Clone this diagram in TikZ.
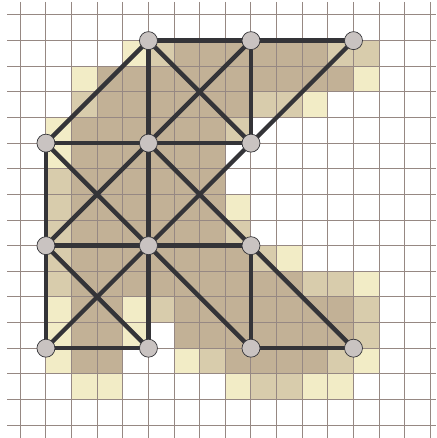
\documentclass[tikz,border=0pt]{standalone}
\definecolor{cL}{HTML}{F2ECC6}
\definecolor{cM}{HTML}{D8CCAC}
\definecolor{cD}{HTML}{C2B196}
\definecolor{gridc}{HTML}{968883}
\definecolor{edgec}{HTML}{343438}
\definecolor{nodec}{HTML}{C9C3C1}
\newcommand{\GX}{20.3}
\newcommand{\GY}{15}
\newcommand{\GS}{25.63}
\newcommand{\cellrow}[3]{%
  \foreach \c in {#3} {
    \fill[#2] ({\GX+\GS*\c},{-(\GY+\GS*#1)}) rectangle ++(\GS,-\GS);
  }}
\tikzset{
  gridline/.style={draw=gridc,line width=1pt},
  edgeline/.style={draw=edgec,line width=4.4pt},
  vertex/.style={circle,draw=edgec,fill=nodec,line width=0.7pt,minimum size=18pt,inner sep=0pt}
}
\begin{document}
\begin{tikzpicture}[x=1pt,y=1pt]
\useasboundingbox (0,0) rectangle (436,-438);
\fill[white] (0,0) rectangle (436,-438);
\cellrow{1}{cL}{4}
\cellrow{1}{cM}{5,12,13}
\cellrow{1}{cD}{6,7,8,9,10,11}
\cellrow{2}{cL}{2,13}
\cellrow{2}{cD}{3,4,5,6,7,8,9,10,11,12}
\cellrow{3}{cM}{2,9,10}
\cellrow{3}{cD}{3,4,5,6,7,8}
\cellrow{3}{cL}{11}
\cellrow{4}{cL}{1}
\cellrow{4}{cD}{2,3,4,5,6,7}
\cellrow{4}{cM}{8}
\cellrow{5}{cL}{1}
\cellrow{5}{cD}{2,3,4,5,6,7}
\cellrow{6}{cM}{1}
\cellrow{6}{cD}{2,3,4,5,6,7}
\cellrow{7}{cM}{1}
\cellrow{7}{cD}{2,3,4,5,6,7}
\cellrow{7}{cL}{8}
\cellrow{8}{cM}{1,8}
\cellrow{8}{cD}{2,3,4,5,6,7}
\cellrow{9}{cM}{1,9}
\cellrow{9}{cD}{2,3,4,5,6,7,8}
\cellrow{9}{cL}{10}
\cellrow{10}{cM}{1,11,12}
\cellrow{10}{cD}{2,3,4,5,6,7,8,9,10}
\cellrow{10}{cL}{13}
\cellrow{11}{cL}{1,4}
\cellrow{11}{cD}{2,3,6,7,8,9,10,11,12}
\cellrow{11}{cM}{5,13}
\cellrow{12}{cL}{1,4}
\cellrow{12}{cD}{2,3,6,7,8,9,10,11,12}
\cellrow{12}{cM}{13}
\cellrow{13}{cL}{1,6,13}
\cellrow{13}{cD}{2,3,8,9,10,11}
\cellrow{13}{cM}{7,12}
\cellrow{14}{cL}{2,3,8,11,12}
\cellrow{14}{cM}{9,10}
\foreach \i in {0,...,16} {
  \draw[gridline] ({\GX+\GS*\i},-2) -- ({\GX+\GS*\i},-438);
  \draw[gridline] (7,{-(\GY+\GS*\i)}) -- (436,{-(\GY+\GS*\i)});
}
\foreach \n/\c/\r in {a/5/1,b/9/1,c/13/1,d/1/5,e/5/5,f/9/5,g/1/9,h/5/9,i/9/9,j/1/13,k/5/13,l/9/13,m/13/13}
  \coordinate (\n) at ({\GX+\GS*\c},{-(\GY+\GS*\r)});
\foreach \p/\q in {a/b,b/c,d/e,e/f,g/h,h/i,j/k,l/m,d/g,g/j,a/e,e/h,h/k,b/f,i/l,a/d,a/f,b/e,c/f,d/h,e/g,e/i,f/h,g/k,h/j,h/l,i/m}
  \draw[edgeline] (\p) -- (\q);
\foreach \n in {a,b,c,d,e,f,g,h,i,j,k,l,m}
  \node[vertex] (v\n) at (\n) {};
\end{tikzpicture}
\end{document}
